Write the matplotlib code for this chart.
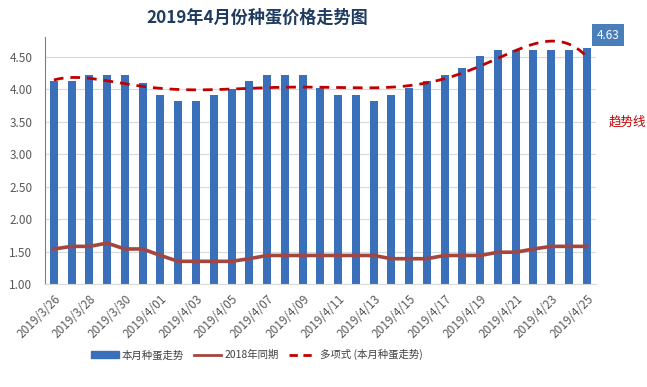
import matplotlib
matplotlib.use("Agg")
import matplotlib.pyplot as plt
import numpy as np
from matplotlib.patches import Patch
from matplotlib.lines import Line2D

plt.rcParams['font.family'] = ['Noto Sans CJK SC', 'DejaVu Sans']

# dates 2019/3/26 .. 2019/4/25
dates = ['2019/3/26', '2019/3/27', '2019/3/28', '2019/3/29', '2019/3/30', '2019/3/31',
         '2019/4/01', '2019/4/02', '2019/4/03', '2019/4/04', '2019/4/05', '2019/4/06',
         '2019/4/07', '2019/4/08', '2019/4/09', '2019/4/10', '2019/4/11', '2019/4/12',
         '2019/4/13', '2019/4/14', '2019/4/15', '2019/4/16', '2019/4/17', '2019/4/18',
         '2019/4/19', '2019/4/20', '2019/4/21', '2019/4/22', '2019/4/23', '2019/4/24',
         '2019/4/25']

price_2019 = [4.12, 4.12, 4.21, 4.21, 4.21, 4.10, 3.91, 3.82, 3.82, 3.91, 4.00,
              4.12, 4.21, 4.21, 4.21, 4.02, 3.91, 3.91, 3.82, 3.91, 4.02,
              4.12, 4.21, 4.32, 4.51, 4.60, 4.60, 4.60, 4.60, 4.60, 4.63]

price_2018 = [1.54, 1.58, 1.58, 1.63, 1.54, 1.54, 1.44, 1.35, 1.35, 1.35, 1.35,
              1.39, 1.44, 1.44, 1.44, 1.44, 1.44, 1.44, 1.44, 1.39, 1.39,
              1.39, 1.44, 1.44, 1.44, 1.49, 1.49, 1.54, 1.58, 1.58, 1.58]

yticks = [1.00, 1.50, 2.00, 2.50, 3.00, 3.50, 4.00, 4.50]

bar_color = '#3A6FB9'
line_color = '#A34540'
trend_color = '#C00000'
text_gray = '#595959'

x = np.arange(len(dates))
# Excel-style polynomial trendline (order 6) of this month's prices
coef = np.polyfit(x, price_2019, 6)
xs = np.linspace(0, len(dates) - 1, 300)
trend = np.polyval(coef, xs)

fig = plt.figure(figsize=(6.47, 3.87), dpi=100)
ax = fig.add_axes([0.0696, 0.266, 0.851, 0.638])

ax.bar(x, price_2019, width=0.45, color=bar_color, zorder=2)
ax.plot(x, price_2018, color=line_color, lw=2.6, zorder=3)
ax.plot(xs, trend, color=trend_color, lw=2, ls=(0, (3.5, 2.5)), zorder=4)

ax.set_xlim(-0.5, len(dates) - 0.5)
ax.set_ylim(1.0, 4.8)
ax.set_yticks(yticks)
ax.set_yticklabels([f'{v:.2f}' for v in yticks], fontsize=8.5, color=text_gray)
ax.set_xticks(x[::2])
ax.set_xticklabels(dates[::2], rotation=45, ha='right', rotation_mode='anchor',
                   fontsize=8.5, color=text_gray)
ax.tick_params(axis='y', length=0, pad=9)
ax.tick_params(axis='x', length=0, pad=6)
ax.grid(axis='y', color='#D9D9D9', lw=0.8, zorder=0)
for s in ['top', 'right']:
    ax.spines[s].set_visible(False)
ax.spines['left'].set_color('#808080')
ax.spines['bottom'].set_color('#D9D9D9')

# last value label
ax.text(len(dates) - 0.5 + 0.05, price_2019[-1] + 0.2, f'{price_2019[-1]:.2f}',
        fontsize=8.5, color='white', ha='left', va='center',
        bbox=dict(boxstyle='square,pad=0.4', fc='#4A7EBB', ec='none'))
fig.text(0.940, 0.685, '趋势线', color=trend_color, fontsize=9, ha='left', va='center')

fig.text(0.397, 0.953, '2019年4月份种蛋价格走势图', fontsize=12.3, fontweight='bold',
         color='#1F3B5F', ha='center', va='center')

handles = [Patch(color=bar_color),
           Line2D([0], [0], color=line_color, lw=2),
           Line2D([0], [0], color=trend_color, lw=2, ls=(0, (3, 2)))]
labels = ['本月种蛋走势', '2018年同期', '多项式 (本月种蛋走势)']
fig.legend(handles, labels, loc='center', bbox_to_anchor=(0.397, 0.083), ncol=3,
           frameon=False, fontsize=7.5, handlelength=2.6, columnspacing=1.0,
           handletextpad=0.3, labelcolor='#404040')

fig.savefig('out.png', dpi=100)
